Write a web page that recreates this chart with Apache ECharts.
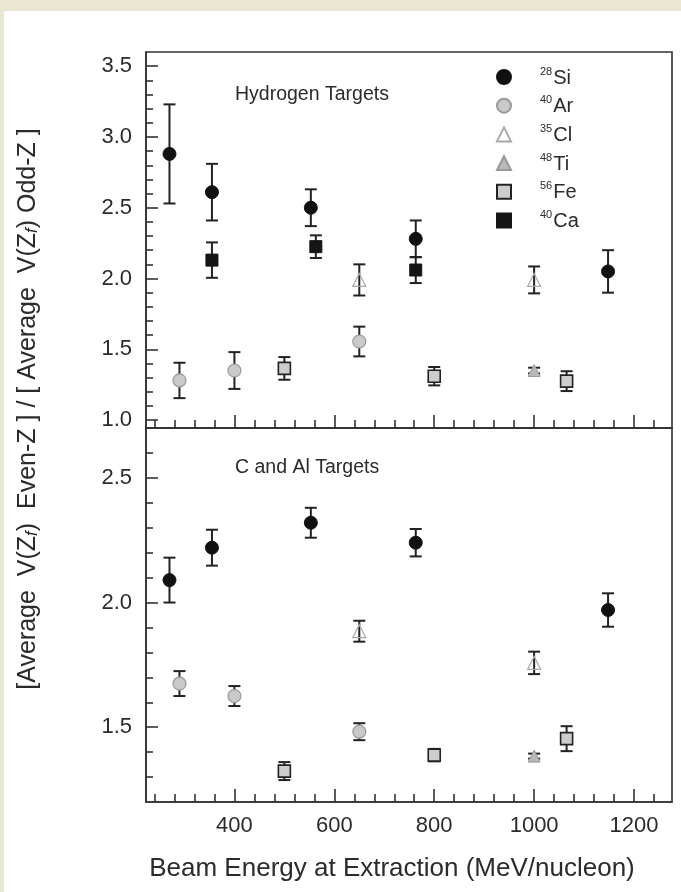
<!DOCTYPE html>
<html>
<head>
<meta charset="utf-8">
<script src="https://cdn.jsdelivr.net/npm/echarts@6/dist/echarts.min.js"></script>
<style>html,body{margin:0;padding:0;background:#e9e7d1;}#c{width:681px;height:892px;}</style>
</head>
<body>
<div id="c"></div>
<script>
// ---------- data ----------
// Hydrogen targets (upper panel)
const siX = [270, 355, 553, 763, 1148];
const siH = [2.88, 2.61, 2.50, 2.28, 2.05];
const siHErr = [0.35, 0.20, 0.13, 0.13, 0.15];
const arX = [290, 400, 650];
const arH = [1.28, 1.35, 1.555];
const arHErr = [0.125, 0.13, 0.105];
const clX = [650, 1000];
const clH = [1.99, 1.99];
const clHErr = [0.11, 0.095];
const tiX = [1000];
const tiH = [1.35];
const tiHErr = [0.02];
const feX = [500, 800, 1065];
const feH = [1.365, 1.31, 1.275];
const feHErr = [0.08, 0.065, 0.07];
const caX = [355, 563, 763];
const caH = [2.13, 2.225, 2.06];
const caHErr = [0.125, 0.08, 0.092];
// C and Al targets (lower panel)
const siC = [2.09, 2.22, 2.32, 2.24, 1.97];
const siCErr = [0.09, 0.072, 0.06, 0.055, 0.067];
const arC = [1.675, 1.625, 1.482];
const arCErr = [0.05, 0.04, 0.034];
const clC = [1.885, 1.758];
const clCErr = [0.042, 0.045];
const tiC = [1.384];
const tiCErr = [0.01];
const feC = [1.324, 1.388, 1.454];
const feCErr = [0.036, 0.025, 0.05];

// ticks
const xMajor = [400, 600, 800, 1000, 1200];
const xMinor = [240, 280, 320, 360, 440, 480, 520, 560, 640, 680, 720, 760, 840, 880, 920, 960, 1040, 1080, 1120, 1160, 1240];
const yHMajor = [1.0, 1.5, 2.0, 2.5, 3.0, 3.5];
const yHMinor = [1.1,1.2,1.3,1.4,1.6,1.7,1.8,1.9,2.1,2.2,2.3,2.4,2.6,2.7,2.8,2.9,3.1,3.2,3.3,3.4];
const yCMajor = [1.5, 2.0, 2.5];
const yCMinor = [1.3,1.4,1.6,1.7,1.8,1.9,2.1,2.2,2.3,2.4,2.6];

const legendNames = ['28Si','40Ar','35Cl','48Ti','56Fe','40Ca'];

// ---------- helpers ----------
const FONT = 'Liberation Sans, Arial, Helvetica, sans-serif';
const pts = (xs, ys) => xs.map((x, i) => [x, ys[i]]);
const errs = (xs, ys, es) => xs.map((x, i) => [x, ys[i] - es[i], ys[i] + es[i]]);

const styles = {
  '28Si': {symbol: 'circle', symbolSize: 13, itemStyle: {color: '#111', borderColor: '#111', borderWidth: 1, opacity: 1}},
  '40Ar': {symbol: 'circle', symbolSize: 13, itemStyle: {color: '#c9c9c9', borderColor: '#9a9a9a', borderWidth: 1.2, opacity: 1}},
  '35Cl': {symbol: 'triangle', symbolSize: 13, itemStyle: {color: 'rgba(255,255,255,0)', borderColor: '#aaaaaa', borderWidth: 1.2, opacity: 1}},
  '48Ti': {symbol: 'triangle', symbolSize: 12, itemStyle: {color: '#b8b8b8', borderColor: '#999', borderWidth: 1, opacity: 1}},
  '56Fe': {symbol: 'rect', symbolSize: 12, itemStyle: {color: '#cdcdcd', borderColor: '#222', borderWidth: 1.6, opacity: 1}},
  '40Ca': {symbol: 'rect', symbolSize: 12, itemStyle: {color: '#151515', borderColor: '#151515', borderWidth: 1, opacity: 1}}
};

function scatter(name, data, idx) {
  return Object.assign({
    type: 'scatter', name: name, xAxisIndex: idx * 2, yAxisIndex: idx * 2,
    data: data, z: 5, silent: true
  }, styles[name]);
}
function errbar(name, data, idx) {
  return {
    type: 'custom', name: 'err_' + name + idx, xAxisIndex: idx * 2, yAxisIndex: idx * 2,
    data: data, z: 3, silent: true,
    encode: {x: 0, y: [1, 2]},
    renderItem: function (params, api) {
      const x = api.value(0), lo = api.value(1), hi = api.value(2);
      const a = api.coord([x, hi]), b = api.coord([x, lo]);
      const w = 6;
      const st = {stroke: '#222', lineWidth: 2};
      return {type: 'group', children: [
        {type: 'line', shape: {x1: a[0], y1: a[1], x2: b[0], y2: b[1]}, style: st},
        {type: 'line', shape: {x1: a[0] - w, y1: a[1], x2: a[0] + w, y2: a[1]}, style: st},
        {type: 'line', shape: {x1: b[0] - w, y1: b[1], x2: b[0] + w, y2: b[1]}, style: st}
      ]};
    }
  };
}

const lineStyle = {color: '#333', width: 1.6};
function xAxes(gridIndex, showLabels) {
  return [
    {type: 'value', gridIndex: gridIndex, position: 'bottom', offset: 0, min: 223, max: 1276,
     axisLine: {show: true, onZero: false, lineStyle: lineStyle},
     axisTick: {show: true, inside: true, length: 13, customValues: xMajor, lineStyle: lineStyle},
     axisLabel: {show: showLabels, customValues: xMajor, margin: 13, fontSize: 22, color: '#2b2b2b', fontFamily: FONT,
                 formatter: v => String(Math.round(v))},
     splitLine: {show: false}},
    {type: 'value', gridIndex: gridIndex, position: 'bottom', offset: 0, min: 223, max: 1276,
     axisLine: {show: false, onZero: false},
     axisTick: {show: true, inside: true, length: 8, customValues: xMinor, lineStyle: lineStyle},
     axisLabel: {show: false}, splitLine: {show: false}}
  ];
}
function yAxes(gridIndex, min, max, major, minor) {
  return [
    {type: 'value', gridIndex: gridIndex, position: 'left', offset: 0, min: min, max: max,
     axisLine: {show: true, onZero: false, lineStyle: lineStyle},
     axisTick: {show: true, inside: true, length: 12, customValues: major, lineStyle: lineStyle},
     axisLabel: {show: true, customValues: major, margin: 14, fontSize: 22, color: '#2b2b2b', fontFamily: FONT,
                 formatter: v => Number(v).toFixed(1)},
     splitLine: {show: false}},
    {type: 'value', gridIndex: gridIndex, position: 'left', offset: 0, min: min, max: max,
     axisLine: {show: false, onZero: false},
     axisTick: {show: true, inside: true, length: 7, customValues: minor, lineStyle: lineStyle},
     axisLabel: {show: false}, splitLine: {show: false}}
  ];
}

const series = [
  // upper panel
  errbar('28Si', errs(siX, siH, siHErr), 0), scatter('28Si', pts(siX, siH), 0),
  errbar('40Ar', errs(arX, arH, arHErr), 0), scatter('40Ar', pts(arX, arH), 0),
  errbar('35Cl', errs(clX, clH, clHErr), 0), scatter('35Cl', pts(clX, clH), 0),
  errbar('48Ti', errs(tiX, tiH, tiHErr), 0), scatter('48Ti', pts(tiX, tiH), 0),
  errbar('56Fe', errs(feX, feH, feHErr), 0), scatter('56Fe', pts(feX, feH), 0),
  errbar('40Ca', errs(caX, caH, caHErr), 0), scatter('40Ca', pts(caX, caH), 0),
  // lower panel
  errbar('28Si', errs(siX, siC, siCErr), 1), scatter('28Si', pts(siX, siC), 1),
  errbar('40Ar', errs(arX, arC, arCErr), 1), scatter('40Ar', pts(arX, arC), 1),
  errbar('35Cl', errs(clX, clC, clCErr), 1), scatter('35Cl', pts(clX, clC), 1),
  errbar('48Ti', errs(tiX, tiC, tiCErr), 1), scatter('48Ti', pts(tiX, tiC), 1),
  errbar('56Fe', errs(feX, feC, feCErr), 1), scatter('56Fe', pts(feX, feC), 1)
];

const chart = echarts.init(document.getElementById('c'), null, {renderer: 'canvas'});
chart.setOption({
  animation: false,
  backgroundColor: '#e9e7d1',
  grid: [
    {left: 146, top: 52, width: 526, height: 376, show: true, borderColor: '#333', borderWidth: 1.6, backgroundColor: 'transparent'},
    {left: 146, top: 428, width: 526, height: 374, show: true, borderColor: '#333', borderWidth: 1.6, backgroundColor: 'transparent'}
  ],
  xAxis: [].concat(xAxes(0, false), xAxes(1, true)),
  yAxis: [].concat(yAxes(0, 0.944, 3.6, yHMajor, yHMinor), yAxes(1, 1.2, 2.7, yCMajor, yCMinor)),
  legend: {
    data: legendNames, orient: 'vertical', left: 496, top: 66, padding: 0,
    itemWidth: 14, itemHeight: 14, itemGap: 6.7, selectedMode: false,
    formatter: function (name) {
      const m = name.match(/^(\d+)(\D+)$/);
      return '{sup|' + m[1] + '}{m|' + m[2] + '}';
    },
    textStyle: {
      color: '#2b2b2b', fontFamily: FONT,
      rich: {
        sup: {fontSize: 11, padding: [0, 1, 0, 24], verticalAlign: 'top', lineHeight: 22, color: '#2b2b2b', fontFamily: FONT},
        m: {fontSize: 20, verticalAlign: 'bottom', lineHeight: 22, color: '#2b2b2b', fontFamily: FONT}
      }
    }
  },
  graphic: [
    {type: 'rect', z: -10, silent: true, shape: {x: 4, y: 11, width: 677, height: 881}, style: {fill: '#ffffff'}},
    {type: 'text', silent: true, x: 235, y: 95, style: {text: 'Hydrogen Targets', fontSize: 19.5, fontFamily: FONT, fill: '#2b2b2b', verticalAlign: 'middle'}},
    {type: 'text', silent: true, x: 235, y: 468, style: {text: 'C and Al Targets', fontSize: 19.5, fontFamily: FONT, fill: '#2b2b2b', verticalAlign: 'middle'}},
    {type: 'text', silent: true, x: 392, y: 869, style: {text: 'Beam Energy at Extraction (MeV/nucleon)', fontSize: 26, fontFamily: FONT, fill: '#2b2b2b', align: 'center', verticalAlign: 'middle'}},
    {type: 'text', silent: true, x: 26, y: 409, rotation: Math.PI / 2,
     style: {
       text: '{n|[Average  V(Z}{s|f}{n|)  Even-Z ] / [ Average  V(Z}{s|f}{n|) Odd-Z ]}',
       align: 'center', verticalAlign: 'middle', fill: '#2b2b2b',
       rich: {
         n: {fontSize: 25, fontFamily: FONT, fill: '#2b2b2b', verticalAlign: 'bottom', lineHeight: 30},
         s: {fontSize: 17, fontFamily: FONT, fontStyle: 'italic', fill: '#2b2b2b', verticalAlign: 'bottom', lineHeight: 26}
       }
     }}
  ],
  series: series
});
</script>
</body>
</html>
